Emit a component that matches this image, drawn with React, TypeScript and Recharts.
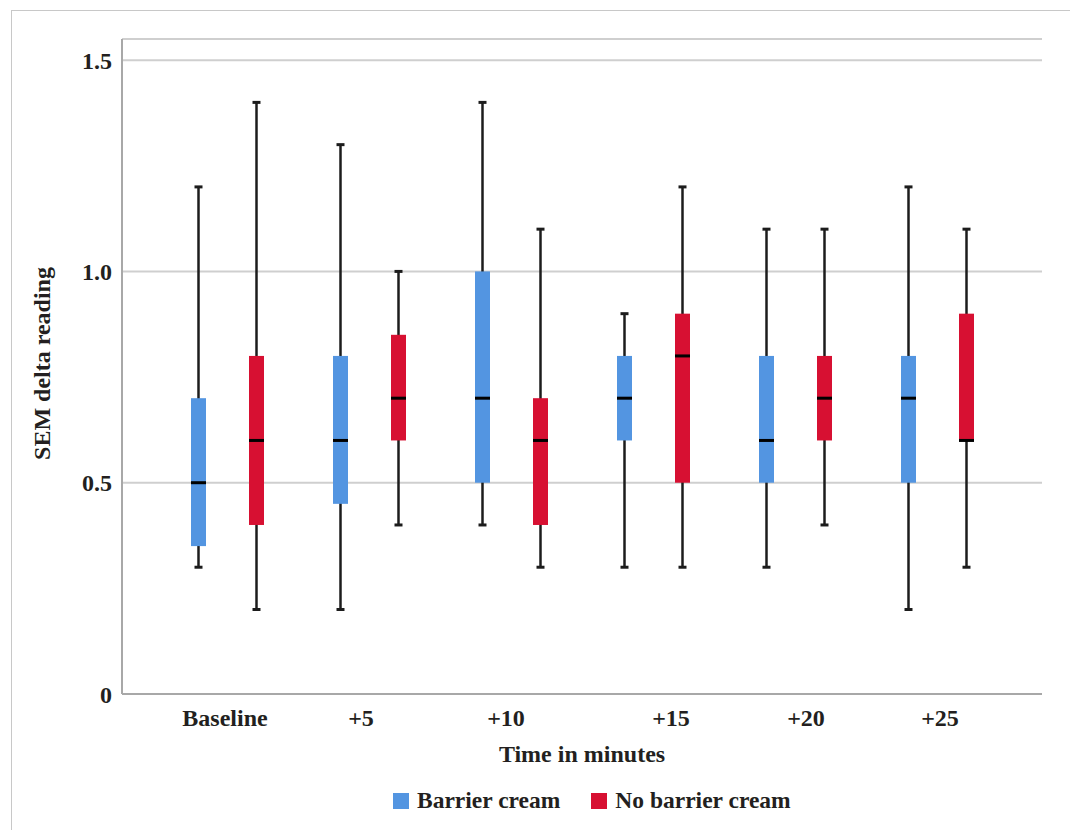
import React from "react";
import {
  Bar,
  CartesianGrid,
  ComposedChart,
  XAxis,
  YAxis,
} from "recharts";

const CATEGORIES = ["Baseline", "+5", "+10", "+15", "+20", "+25"];

const BARRIER_MIN = [0.3, 0.2, 0.4, 0.3, 0.3, 0.2];
const BARRIER_Q1 = [0.35, 0.45, 0.5, 0.6, 0.5, 0.5];
const BARRIER_MEDIAN = [0.5, 0.6, 0.7, 0.7, 0.6, 0.7];
const BARRIER_Q3 = [0.7, 0.8, 1.0, 0.8, 0.8, 0.8];
const BARRIER_MAX = [1.2, 1.3, 1.4, 0.9, 1.1, 1.2];

const NO_BARRIER_MIN = [0.2, 0.4, 0.3, 0.3, 0.4, 0.3];
const NO_BARRIER_Q1 = [0.4, 0.6, 0.4, 0.5, 0.6, 0.6];
const NO_BARRIER_MEDIAN = [0.6, 0.7, 0.6, 0.8, 0.7, 0.6];
const NO_BARRIER_Q3 = [0.8, 0.85, 0.7, 0.9, 0.8, 0.9];
const NO_BARRIER_MAX = [1.4, 1.0, 1.1, 1.2, 1.1, 1.1];

const Y_TICKS = [0, 0.5, 1.0, 1.5];

// small horizontal nudges of the tick labels, as in the original figure
const TICK_NUDGE = [-2, -8, -5, 18, 11, 3];

const BLUE = "#5395e1";
const RED = "#d71032";
const INK = "#231f20";
const FONT = "'Liberation Serif', 'Times New Roman', serif";

type Stats = { min: number; q1: number; median: number; q3: number; max: number };

const data = CATEGORIES.map((name, i) => ({
  name,
  barrier: {
    min: BARRIER_MIN[i],
    q1: BARRIER_Q1[i],
    median: BARRIER_MEDIAN[i],
    q3: BARRIER_Q3[i],
    max: BARRIER_MAX[i],
  },
  noBarrier: {
    min: NO_BARRIER_MIN[i],
    q1: NO_BARRIER_Q1[i],
    median: NO_BARRIER_MEDIAN[i],
    q3: NO_BARRIER_Q3[i],
    max: NO_BARRIER_MAX[i],
  },
}));

const makeBox = (key: "barrier" | "noBarrier", color: string) => (props: any) => {
  const { x, y, width, height, payload } = props;
  const s: Stats = payload[key];
  const top = Math.min(y, y + height);
  const bottom = Math.max(y, y + height);
  // map a value onto the pixel range of the whisker bar (min..max)
  const py = (v: number) => bottom - ((v - s.min) / (s.max - s.min)) * (bottom - top);
  const cx = x + width / 2;
  return (
    <g>
      <line x1={cx} x2={cx} y1={top} y2={bottom} stroke="#1c1c1c" strokeWidth={2.5} />
      <line x1={cx - 4} x2={cx + 4} y1={top} y2={top} stroke="#1c1c1c" strokeWidth={3} />
      <line x1={cx - 4} x2={cx + 4} y1={bottom} y2={bottom} stroke="#1c1c1c" strokeWidth={3} />
      <rect x={x} y={py(s.q3)} width={width} height={py(s.q1) - py(s.q3)} fill={color} />
      <line x1={x} x2={x + width} y1={py(s.median)} y2={py(s.median)} stroke="#000" strokeWidth={3} />
    </g>
  );
};

const XTick = (props: any) => {
  const { x, y, payload, index } = props;
  return (
    <text
      x={x + (TICK_NUDGE[index] ?? 0)}
      y={y}
      dy="0.71em"
      textAnchor="middle"
      fill={INK}
      fontSize={24}
      fontWeight="bold"
      fontFamily={FONT}
    >
      {payload.value}
    </text>
  );
};

const LegendItem = ({ color, label }: { color: string; label: string }) => (
  <div style={{ display: "flex", alignItems: "center" }}>
    <div style={{ width: 16, height: 16, background: color, marginRight: 8 }} />
    <span style={{ fontSize: 23.5, fontWeight: "bold", color: INK, fontFamily: FONT }}>{label}</span>
  </div>
);

export default function App() {
  return (
    <div style={{ position: "absolute", left: 0, top: 0, width: 1070, height: 830, background: "#fff" }}>
      <div
        style={{
          position: "absolute",
          left: 11,
          top: 10,
          right: 0,
          bottom: 0,
          borderTop: "1.5px solid #c8c8c8",
          borderLeft: "1.5px solid #c8c8c8",
        }}
      />
      <div style={{ position: "absolute", left: 0, top: 0 }}>
        <ComposedChart
          width={1070}
          height={830}
          data={data}
          margin={{ top: 39, right: 28, left: 62, bottom: 56 }}
          barSize={15}
          barGap={43}
        >
          <CartesianGrid horizontal vertical={false} stroke="#cfcfcf" strokeWidth={2} />
          <XAxis
            dataKey="name"
            type="category"
            padding={{ left: 34, right: 34 }}
            axisLine={{ stroke: "#a8a8a8", strokeWidth: 2 }}
            tickLine={false}
            tickSize={0}
            tickMargin={15}
            height={80}
            tick={<XTick />}
            label={{
              value: "Time in minutes",
              position: "insideBottom",
              offset: 12,
              fill: INK,
              fontSize: 24,
              fontWeight: "bold",
              fontFamily: FONT,
            }}
          />
          <YAxis
            type="number"
            domain={[0, 1.55]}
            ticks={Y_TICKS}
            width={60}
            axisLine={{ stroke: "#a8a8a8", strokeWidth: 2 }}
            tickLine={false}
            tickSize={0}
            tickMargin={10}
            tickFormatter={(v: number) => (v === 0 ? "0" : v.toFixed(1))}
            tick={{ fill: INK, fontSize: 24, fontWeight: "bold", fontFamily: FONT }}
            label={{
              value: "SEM delta reading",
              content: ({ viewBox }: any) => {
                const cx = viewBox.x - 20;
                const cy = viewBox.y + viewBox.height / 2 - 3;
                return (
                  <text
                    x={cx}
                    y={cy}
                    transform={`rotate(-90 ${cx} ${cy})`}
                    textAnchor="middle"
                    dominantBaseline="central"
                    fill={INK}
                    fontSize={24}
                    fontWeight="bold"
                    fontFamily={FONT}
                  >
                    SEM delta reading
                  </text>
                );
              },
            }}
          />
          <Bar
            dataKey={(d: any) => [d.barrier.min, d.barrier.max]}
            name="Barrier cream"
            fill={BLUE}
            shape={makeBox("barrier", BLUE)}
            isAnimationActive={false}
          />
          <Bar
            dataKey={(d: any) => [d.noBarrier.min, d.noBarrier.max]}
            name="No barrier cream"
            fill={RED}
            shape={makeBox("noBarrier", RED)}
            isAnimationActive={false}
          />
        </ComposedChart>
      </div>
      <div style={{ position: "absolute", left: 393, top: 787, display: "flex", gap: 31 }}>
        <LegendItem color={BLUE} label="Barrier cream" />
        <LegendItem color={RED} label="No barrier cream" />
      </div>
    </div>
  );
}
